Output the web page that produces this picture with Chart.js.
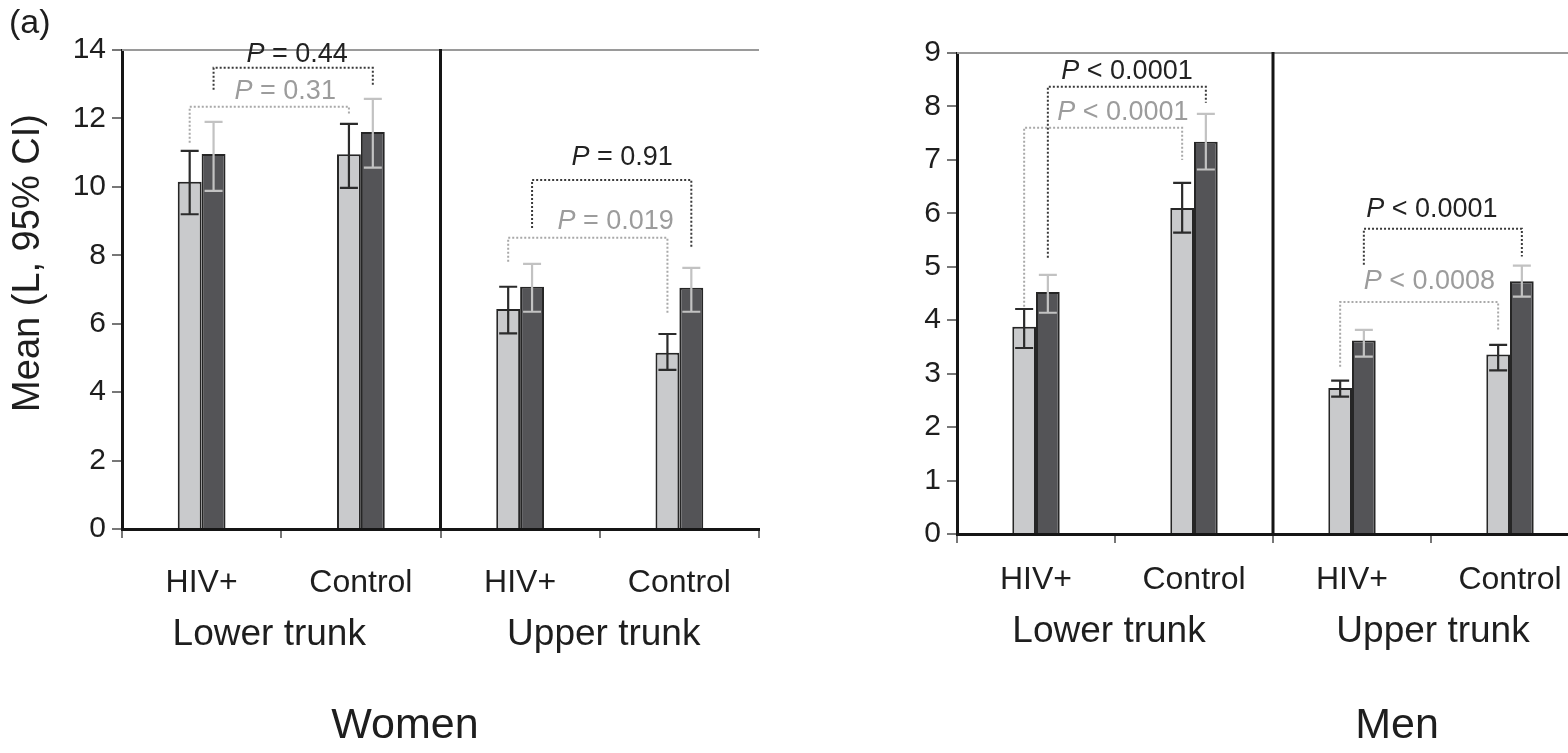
<!DOCTYPE html>
<html>
<head>
<meta charset="utf-8">
<script src="https://cdn.jsdelivr.net/npm/chart.js@4.4.1/dist/chart.umd.min.js"></script>
<style>
  html, body { margin: 0; padding: 0; background: #fff; }
  body { width: 1568px; height: 753px; overflow: hidden; position: relative; }
  #women { position: absolute; left: 0; top: 0; }
  #men { position: absolute; left: 800px; top: 0; }
</style>
</head>
<body>
<canvas id="women" width="790" height="753"></canvas>
<canvas id="men" width="820" height="753"></canvas>
<script>
// ---- data ----------------------------------------------------------------
const categories = ['HIV+', 'Control', 'HIV+', 'Control'];
const regions = ['Lower trunk', 'Upper trunk'];

// Women: means (L) with 95% CI bounds
const womenLight     = [10.15, 10.95, 6.43, 5.15];
const womenLightLow  = [9.20, 9.97, 5.72, 4.65];
const womenLightHigh = [11.05, 11.84, 7.08, 5.70];
const womenDark      = [10.96, 11.60, 7.08, 7.05];
const womenDarkLow   = [9.88, 10.56, 6.35, 6.35];
const womenDarkHigh  = [11.90, 12.57, 7.75, 7.63];
const womenYTicks    = [0, 2, 4, 6, 8, 10, 12, 14];

// Men: means (L) with 95% CI bounds
const menLight     = [3.88, 6.10, 2.73, 3.36];
const menLightLow  = [3.48, 5.64, 2.57, 3.06];
const menLightHigh = [4.21, 6.57, 2.87, 3.54];
const menDark      = [4.53, 7.34, 3.62, 4.73];
const menDarkLow   = [4.14, 6.82, 3.32, 4.44];
const menDarkHigh  = [4.85, 7.86, 3.82, 5.02];
const menYTicks    = [0, 1, 2, 3, 4, 5, 6, 7, 8, 9];

// Comparison brackets (series 0 = light bars, 1 = dark bars), in axis units
const womenBrackets = [
  { series: 0, from: 0, to: 1, level: 12.34, footFrom: 11.29, footTo: 12.10, op: '=', p: '0.31',  labelY: 12.78, labelX: 0.525 },
  { series: 1, from: 0, to: 1, level: 13.48, footFrom: 12.84, footTo: 12.98, op: '=', p: '0.44',  labelY: 13.86, labelX: 0.60 },
  { series: 0, from: 2, to: 3, level: 8.51,  footFrom: 7.81,  footTo: 6.26,  op: '=', p: '0.019', labelY: 8.98,  labelX: 2.60 },
  { series: 1, from: 2, to: 3, level: 10.20, footFrom: 8.80,  footTo: 8.25,  op: '=', p: '0.91',  labelY: 10.85, labelX: 2.64 }
];
const menBrackets = [
  { series: 0, from: 0, to: 1, level: 7.60, footFrom: 4.25, footTo: 7.00, op: '<', p: '0.0001', labelY: 7.88, labelX: 0.55 },
  { series: 1, from: 0, to: 1, level: 8.37, footFrom: 5.17, footTo: 8.07, op: '<', p: '0.0001', labelY: 8.65, labelX: 0.576 },
  { series: 0, from: 2, to: 3, level: 4.34, footFrom: 3.13, footTo: 3.82, op: '<', p: '0.0008', labelY: 4.72, labelX: 2.49 },
  { series: 1, from: 2, to: 3, level: 5.71, footFrom: 5.04, footTo: 5.19, op: '<', p: '0.0001', labelY: 6.07, labelX: 2.506 }
];

// ---- styling ---------------------------------------------------------------
const FONT = "'Liberation Sans', Arial, Helvetica, sans-serif";
const INK = '#1e1e1e';
const LIGHT_FILL = '#c9cacc';
const DARK_FILL = '#545457';
const BRACKET_COLORS = ['#a9a9a9', '#3a3a3a'];
const PTEXT_COLORS = ['#9c9c9c', '#222222'];
const ERR_COLORS = ['#2b2b2b', '#c2c2c2'];

Chart.defaults.font.family = FONT;
Chart.defaults.color = INK;

// Draws frame rules, CI whiskers, comparison brackets and panel text
const panelDecor = {
  id: 'panelDecor',
  beforeDatasetsDraw(chart) {
    const { ctx, chartArea: a } = chart;
    ctx.save();
    ctx.strokeStyle = '#9a9a9a';
    ctx.lineWidth = 2;
    ctx.beginPath();
    ctx.moveTo(a.left, a.top);
    ctx.lineTo(a.right, a.top);
    ctx.stroke();
    ctx.restore();
  },
  afterDatasetsDraw(chart, args, opts) {
    const { ctx, chartArea: a, scales: { x, y } } = chart;
    ctx.save();

    // region divider
    const xd = x.getPixelForValue(1.5);
    ctx.strokeStyle = '#151515';
    ctx.lineWidth = 3;
    ctx.beginPath();
    ctx.moveTo(xd, a.top - 1);
    ctx.lineTo(xd, a.bottom);
    ctx.stroke();

    // confidence-interval whiskers
    chart.data.datasets.forEach((ds, di) => {
      const meta = chart.getDatasetMeta(di);
      meta.data.forEach((bar, i) => {
        const cx = bar.x;
        const yl = y.getPixelForValue(ds.ciLow[i]);
        const yh = y.getPixelForValue(ds.ciHigh[i]);
        const cap = 9;
        ctx.strokeStyle = ERR_COLORS[di];
        ctx.lineWidth = 2.2;
        ctx.beginPath();
        ctx.moveTo(cx, yl); ctx.lineTo(cx, yh);
        ctx.moveTo(cx - cap, yh); ctx.lineTo(cx + cap, yh);
        ctx.moveTo(cx - cap, yl); ctx.lineTo(cx + cap, yl);
        ctx.stroke();
      });
    });

    // comparison brackets
    (opts.brackets || []).forEach(b => {
      const meta = chart.getDatasetMeta(b.series);
      const x1 = meta.data[b.from].x;
      const x2 = meta.data[b.to].x;
      const yl = y.getPixelForValue(b.level);
      ctx.strokeStyle = BRACKET_COLORS[b.series];
      ctx.lineWidth = 2;
      ctx.setLineDash([2, 2]);
      ctx.beginPath();
      ctx.moveTo(x1, y.getPixelForValue(b.footFrom));
      ctx.lineTo(x1, yl);
      ctx.lineTo(x2, yl);
      ctx.lineTo(x2, y.getPixelForValue(b.footTo));
      ctx.stroke();
      ctx.setLineDash([]);
    });

    // P-value labels
    (opts.brackets || []).forEach(b => {
      const cx = x.getPixelForValue(b.labelX);
      const cy = y.getPixelForValue(b.labelY);
      const italic = 'italic 27px ' + FONT;
      const plain = '27px ' + FONT;
      const rest = ' ' + b.op + ' ' + b.p;
      ctx.font = italic;
      const wP = ctx.measureText('P').width;
      ctx.font = plain;
      const wR = ctx.measureText(rest).width;
      const x0 = cx - (wP + wR) / 2;
      ctx.fillStyle = PTEXT_COLORS[b.series];
      ctx.textBaseline = 'middle';
      ctx.textAlign = 'left';
      ctx.font = italic;
      ctx.fillText('P', x0, cy);
      ctx.font = plain;
      ctx.fillText(rest, x0 + wP, cy);
    });

    ctx.restore();
  },
  afterDraw(chart, args, opts) {
    const { ctx, scales: { x } } = chart;
    ctx.save();
    ctx.fillStyle = INK;
    ctx.textAlign = 'center';
    ctx.textBaseline = 'middle';

    // region labels under each pair of categories
    ctx.font = '37px ' + FONT;
    regions.forEach((r, k) => {
      const shift = (opts.regionShift || [])[k] || 0;
      ctx.fillText(r, x.getPixelForValue(2 * k + 0.5) + shift, opts.regionY);
    });

    // panel caption
    ctx.font = '43px ' + FONT;
    ctx.fillText(opts.caption, opts.captionX, opts.captionY);

    if (opts.yTitle) {
      ctx.save();
      ctx.translate(opts.yTitle.x, opts.yTitle.y);
      ctx.rotate(-Math.PI / 2);
      ctx.font = '38px ' + FONT;
      ctx.fillText(opts.yTitle.text, 0, 0);
      ctx.restore();
    }
    if (opts.tag) {
      ctx.font = '34px ' + FONT;
      ctx.textAlign = 'left';
      ctx.fillText(opts.tag.text, opts.tag.x, opts.tag.y);
    }
    ctx.restore();
  }
};

function makePanel(canvasId, cfg) {
  return new Chart(document.getElementById(canvasId), {
    type: 'bar',
    data: {
      labels: categories,
      datasets: [
        { label: 'Light bars', data: cfg.light, ciLow: cfg.lightLow, ciHigh: cfg.lightHigh,
          backgroundColor: LIGHT_FILL, borderColor: '#262626', borderWidth: 2 },
        { label: 'Dark bars', data: cfg.dark, ciLow: cfg.darkLow, ciHigh: cfg.darkHigh,
          backgroundColor: DARK_FILL, borderColor: '#262626', borderWidth: 2 }
      ]
    },
    options: {
      responsive: false,
      animation: false,
      devicePixelRatio: 1,
      categoryPercentage: 0.30,
      barPercentage: 1.0,
      layout: { padding: { top: cfg.top, right: 31, left: 0, bottom: 0 } },
      plugins: {
        legend: { display: false },
        tooltip: { enabled: false },
        panelDecor: {
          brackets: cfg.brackets,
          regionY: cfg.regionY,
          regionShift: cfg.regionShift,
          caption: cfg.caption,
          captionX: cfg.captionX,
          captionY: 726,
          yTitle: cfg.yTitle,
          tag: cfg.tag
        }
      },
      scales: {
        x: {
          grid: { offset: true, drawOnChartArea: false, drawTicks: true, tickLength: 9, color: '#777', lineWidth: 2 },
          border: { display: true, color: '#151515', width: 3 },
          ticks: { font: { size: 32 }, color: INK, padding: cfg.xPad, maxRotation: 0, autoSkip: false },
          afterFit(s) { s.height = cfg.xHeight; }
        },
        y: {
          min: 0,
          max: cfg.yTicks[cfg.yTicks.length - 1],
          afterBuildTicks(s) { s.ticks = cfg.yTicks.map(v => ({ value: v })); },
          grid: { drawOnChartArea: false, drawTicks: true, tickLength: 10, color: '#777', lineWidth: 2 },
          border: { display: true, color: '#151515', width: 3 },
          ticks: { font: { size: 30 }, color: INK, padding: 6 },
          afterFit(s) { s.width = cfg.yWidth; }
        }
      }
    },
    plugins: [panelDecor]
  });
}

makePanel('women', {
  light: womenLight, lightLow: womenLightLow, lightHigh: womenLightHigh,
  dark: womenDark, darkLow: womenDarkLow, darkHigh: womenDarkHigh,
  yTicks: womenYTicks, brackets: womenBrackets,
  top: 50, yWidth: 122, xHeight: 224, xPad: 26,
  regionY: 635, regionShift: [-12, 4],
  caption: 'Women', captionX: 405,
  yTitle: { text: 'Mean (L, 95% CI)', x: 29, y: 263 },
  tag: { text: '(a)', x: 9, y: 24 }
});

makePanel('men', {
  light: menLight, lightLow: menLightLow, lightHigh: menLightHigh,
  dark: menDark, darkLow: menDarkLow, darkHigh: menDarkHigh,
  yTicks: menYTicks, brackets: menBrackets,
  top: 53, yWidth: 157, xHeight: 219, xPad: 18,
  regionY: 632, regionShift: [-6, 2],
  caption: 'Men', captionX: 597
});
</script>
</body>
</html>
